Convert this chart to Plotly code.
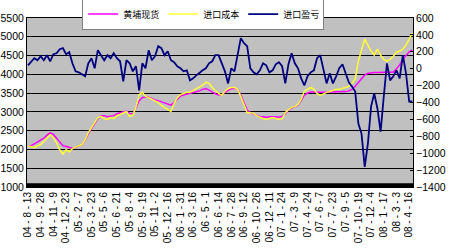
import plotly.graph_objects as go

date_labels = ["04-8-13", "04-9-28", "04-11-9", "04-12-23", "05-2-7", "05-3-23", "05-5-6",
               "05-6-21", "05-8-4", "05-9-19", "05-11-2", "05-12-16", "06-1-31", "06-3-16",
               "06-5-1", "06-6-14", "06-7-28", "06-9-12", "06-10-26", "06-12-11", "07-1-24",
               "07-3-9", "07-4-24", "07-6-7", "07-7-23", "07-9-5", "07-10-19", "07-12-4",
               "08-1-17", "08-3-3", "08-4-16"]

huangpu_spot = [2100, 2100, 2150, 2200, 2230, 2300, 2380, 2440, 2400, 2300,
                2200, 2100, 2080, 2050, 2030, 2050, 2100, 2120, 2250, 2420,
                2560, 2700, 2820, 2900, 2900, 2870, 2880, 2900, 2950, 2970,
                3000, 3020, 2960, 2950, 3100, 3300, 3380, 3400, 3390, 3350,
                3320, 3300, 3270, 3250, 3230, 3180, 3250, 3350, 3420, 3450,
                3470, 3480, 3500, 3520, 3560, 3600, 3620, 3580, 3520, 3480,
                3450, 3460, 3520, 3580, 3620, 3630, 3600, 3450, 3250, 3050,
                2980, 2940, 2900, 2880, 2870, 2860, 2870, 2880, 2870, 2860,
                2880, 2950, 3050, 3100, 3130, 3180, 3300, 3450, 3500, 3530,
                3530, 3520, 3520, 3520, 3520, 3520, 3520, 3520, 3520, 3530,
                3540, 3560, 3600, 3680, 3780, 3880, 3980, 4030, 4050, 4050,
                4050, 4050, 4050, 4050, 4050, 4060, 4150, 4250, 4400, 4500,
                4600, 4650]

import_cost = [2100, 2070, 2045, 2100, 2130, 2210, 2310, 2390, 2310, 2180,
               1990, 1880, 1990, 1940, 2020, 2070, 2100, 2130, 2260, 2450,
               2580, 2740, 2850, 2880, 2820, 2800, 2850, 2820, 2900, 2930,
               2980, 3010, 2880, 2900, 3120, 3460, 3520, 3410, 3380, 3330,
               3280, 3250, 3170, 3120, 3060, 3010, 3220, 3380, 3460, 3490,
               3520, 3520, 3570, 3600, 3650, 3710, 3790, 3760, 3650, 3570,
               3490, 3440, 3550, 3620, 3650, 3650, 3600, 3410, 3200, 2980,
               2980, 2960, 2900, 2850, 2820, 2800, 2820, 2850, 2820, 2800,
               2820, 2980, 3060, 3120, 3140, 3200, 3330, 3550, 3600, 3650,
               3600, 3490, 3440, 3490, 3520, 3540, 3570, 3600, 3600, 3620,
               3650, 3680, 3760, 3870, 4350, 4670, 4940, 4780, 4620, 4510,
               4670, 4510, 4400, 4350, 4400, 4480, 4590, 4620, 4670, 4780,
               4940, 5100]

import_margin = [40, 76, 124, 100, 148, 100, 160, 88, 171, 183,
                 231, 243, 171, 195, 64, -31, -43, -67, -90, 64,
                 124, 5, 219, 160, 100, 160, 124, 183, 124, 88,
                 -150, 100, 64, -31, 29, -257, 64, 5, 219, 100,
                 148, 267, 243, 160, 207, 100, 76, 29, 5, -31,
                 -19, -138, -114, -79, -43, -19, 5, 64, 88, 160,
                 160, 64, -31, -174, 5, -31, 183, 362, 302, 267,
                 5, -43, -67, -19, 64, 40, -43, -19, 52, 76,
                 29, -174, 52, 183, 64, 5, -114, -198, -90, -43,
                 -19, 124, 160, -19, -174, -55, -174, -90, 5, 52,
                 -55, -162, -210, -269, -650, -769, -1162, -888, -448, -293,
                 -471, -745, -329, 64, -138, -90, -19, -114, 160, -55,
                 -388, -388]

x_idx = list(range(len(import_cost)))
tick_vals = [4 * k for k in range(len(date_labels))]
tick_text = [d.replace("-", " - ") for d in date_labels]

fig = go.Figure()
fig.add_trace(go.Scatter(x=x_idx, y=huangpu_spot, name="黄埔现货", mode="lines",
                         line=dict(color="#FF00FF", width=1.5)))
fig.add_trace(go.Scatter(x=x_idx, y=import_cost, name="进口成本", mode="lines",
                         line=dict(color="#FFFF33", width=1.5)))
fig.add_trace(go.Scatter(x=x_idx, y=import_margin, name="进口盈亏", mode="lines",
                         line=dict(color="#000080", width=1.8), yaxis="y2"))

fig.add_shape(type="rect", xref="paper", yref="paper", x0=0, x1=1, y0=0, y1=0.022,
              fillcolor="black", line=dict(width=0), layer="above")

fig.update_layout(
    width=450, height=250,
    margin=dict(l=27, r=37, t=18, b=63, autoexpand=False),
    paper_bgcolor="white",
    plot_bgcolor="#C0C0C0",
    font=dict(family="Liberation Sans, Arial, sans-serif", size=10, color="black"),
    showlegend=True,
    legend=dict(orientation="h", x=0.143, y=1.115, xanchor="left", yanchor="top",
                bgcolor="white", bordercolor="#808080", borderwidth=1,
                font=dict(family="Noto Sans CJK SC", size=9),
                entrywidth=35, tracegroupgap=0),
    xaxis=dict(range=[-0.3, 121.2], tickvals=tick_vals, ticktext=tick_text,
               tickangle=-90, showgrid=False, zeroline=False,
               showline=True, linecolor="black", linewidth=1, mirror=True,
               tickfont=dict(size=10)),
    yaxis=dict(range=[1000, 5500], dtick=500, showgrid=True, gridcolor="black",
               gridwidth=1, zeroline=False, showline=True, linecolor="black",
               tickfont=dict(size=10.5), ticks=""),
    yaxis2=dict(range=[-1400, 600], dtick=200, overlaying="y", side="right",
                showgrid=False, zeroline=False, showline=True, linecolor="black",
                ticks="inside", ticklen=3, tickcolor="black",
                tickfont=dict(size=10.5)),
)

fig.write_html("out.html")
